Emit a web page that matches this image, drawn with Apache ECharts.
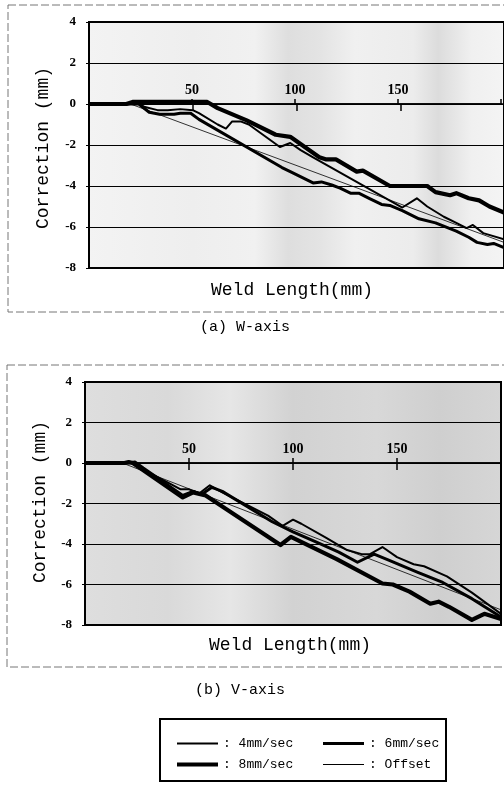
<!DOCTYPE html>
<html>
<head>
<meta charset="utf-8">
<script src="https://cdn.jsdelivr.net/npm/echarts@6/dist/echarts.min.js"></script>
<style>
html,body{margin:0;padding:0;background:#fff;}
#c{width:504px;height:796px;}
</style>
</head>
<body>
<div id="c"></div>
<script>
// ---- data (x = weld length mm, y = correction mm) ----
const xTickValues = [0, 50, 100, 150, 200];
const yTickValues = [4, 2, 0, -2, -4, -6, -8];
const seriesNames = ['4mm/sec', '6mm/sec', '8mm/sec', 'Offset'];

// (a) W-axis
const w4 = [[0,0],[19,0],[23,0.05],[27,-0.15],[33,-0.3],[38,-0.3],[44,-0.25],[50,-0.3],[53,-0.45],[62,-1.0],[66,-1.2],[69,-0.85],[73,-0.85],[77,-1.0],[92,-2.1],[97,-1.9],[102,-2.25],[108,-2.6],[151,-5.05],[158,-4.6],[163,-5.0],[171,-5.5],[177,-5.8],[182,-6.05],[185,-5.9],[190,-6.3],[200,-6.6]];
const w6 = [[0,0],[20,0],[24,0],[29,-0.4],[34,-0.5],[41,-0.5],[44,-0.45],[49,-0.45],[53,-0.75],[93,-3.1],[97,-3.3],[108,-3.85],[112,-3.8],[117,-3.95],[121,-4.1],[126,-4.35],[130,-4.35],[135,-4.6],[141,-4.9],[145,-4.95],[151,-5.2],[159,-5.6],[167,-5.8],[177,-6.2],[183,-6.5],[187,-6.75],[192,-6.85],[195,-6.8],[200,-7.0]];
const w8 = [[0,0],[18,0],[21,0.1],[57,0.1],[62,-0.2],[76,-0.8],[90,-1.5],[97,-1.6],[111,-2.6],[114,-2.7],[119,-2.7],[129,-3.3],[132,-3.25],[145,-4.0],[163,-4.0],[167,-4.3],[174,-4.45],[177,-4.35],[183,-4.6],[188,-4.7],[193,-5.0],[200,-5.3]];
const wOffset = [[0,0],[20,0],[200,-6.75]];

// (b) V-axis
const v4 = [[0,0],[19,0],[21,0.05],[25,-0.15],[46,-1.3],[50,-1.3],[55,-1.5],[60,-1.1],[66,-1.45],[88,-2.6],[95,-3.1],[100,-2.8],[104,-3.0],[116,-3.7],[126,-4.3],[133,-4.5],[137,-4.5],[143,-4.15],[150,-4.65],[158,-5.0],[163,-5.1],[174,-5.6],[186,-6.4],[200,-7.45]];
const v6 = [[0,0],[21,0],[24,0.05],[28,-0.25],[47,-1.6],[52,-1.4],[56,-1.55],[61,-1.2],[66,-1.4],[90,-2.9],[100,-3.4],[111,-3.9],[122,-4.4],[131,-4.9],[139,-4.5],[146,-4.8],[160,-5.4],[172,-5.9],[186,-6.7],[200,-7.6]];
const v8 = [[0,0],[19,0],[21,0.05],[23,0],[47,-1.7],[52,-1.45],[58,-1.6],[94,-4.05],[99,-3.65],[121,-4.75],[143,-5.95],[148,-6.0],[156,-6.35],[166,-6.95],[170,-6.85],[175,-7.1],[186,-7.75],[192,-7.45],[200,-7.7]];
const vOffset = [[0,0],[18,0],[200,-7.25]];

// ---- styling ----
const widths = {'4mm/sec': 2, '6mm/sec': 3, '8mm/sec': 4.2, 'Offset': 0.8};
const monoFont = '"Liberation Mono", "DejaVu Sans Mono", monospace';
const serifFont = '"Liberation Serif", "DejaVu Serif", serif';

const chart = echarts.init(document.getElementById('c'), null, {renderer: 'canvas'});

// main plot rectangles
const P1 = {left: 89, top: 22, width: 418, height: 246};
const P2 = {left: 85, top: 382, width: 416, height: 243};
const yMin = -8, yMax = 4;
function zeroY(p) { return p.top + p.height * (yMax - 0) / (yMax - yMin); }

function mainGrid(p, stops) {
  return Object.assign({}, p, {
    show: true, containLabel: false, borderColor: '#000', borderWidth: 2,
    backgroundColor: {type: 'linear', x: 0, y: 0, x2: 1, y2: 0, colorStops: stops}
  });
}
// helper grids whose edges lie on the zero line (for the x axis drawn at y = 0)
function lowerAuxGrid(p) { const z = zeroY(p); return {left: p.left, width: p.width, top: z, height: p.top + p.height - z, show: false}; }
function upperAuxGrid(p) { const z = zeroY(p); return {left: p.left, width: p.width, top: p.top, height: z - p.top, show: false}; }

const xScale = {type: 'value', min: xTickValues[0], max: xTickValues[xTickValues.length - 1], interval: 50};

function hiddenX(gridIndex) {
  return Object.assign({}, xScale, {gridIndex, show: false, position: 'bottom', axisLine: {onZero: false}, splitLine: {show: false}});
}
function labelledZeroX(gridIndex) {
  return Object.assign({}, xScale, {
    gridIndex, position: 'top',
    axisLine: {show: true, onZero: false, lineStyle: {color: '#000', width: 1.5}},
    axisTick: {show: true, inside: false, length: 5, lineStyle: {color: '#000', width: 1.5}},
    axisLabel: {
      show: true, margin: 7, color: '#000', fontFamily: serifFont, fontWeight: 'bold', fontSize: 14,
      formatter: v => (v === 0 || v === 200) ? '' : String(v)
    },
    splitLine: {show: false}
  });
}
function tickDownX(gridIndex) {
  return Object.assign({}, xScale, {
    gridIndex, position: 'bottom',
    axisLine: {show: true, onZero: false, lineStyle: {color: '#000', width: 1.5}},
    axisTick: {show: true, inside: false, length: 7, lineStyle: {color: '#000', width: 1.5}},
    axisLabel: {show: false},
    splitLine: {show: false}
  });
}
function mainY(gridIndex, margin) {
  return {
    type: 'value', gridIndex, position: 'left', min: yMin, max: yMax, interval: 2,
    axisLine: {show: false, onZero: false},
    axisTick: {show: true, length: 3, lineStyle: {color: '#000'}},
    axisLabel: {margin: margin, color: '#000', fontFamily: serifFont, fontWeight: 'bold', fontSize: 13},
    splitLine: {show: true, lineStyle: {color: '#000', width: 1}}
  };
}
function hiddenY(gridIndex) {
  return {type: 'value', gridIndex, min: 0, max: 1, show: false, axisLine: {onZero: false}, splitLine: {show: false}};
}

function lineSeries(name, data, xIdx, yIdx) {
  return {
    name, type: 'line', data, xAxisIndex: xIdx, yAxisIndex: yIdx,
    symbol: 'none', showSymbol: false, silent: true,
    lineStyle: {color: '#000', width: widths[name], join: 'round'},
    itemStyle: {color: '#000'},
    z: name === 'Offset' ? 5 : 3
  };
}

const legendCommon = {
  icon: 'rect', itemWidth: 41, orient: 'horizontal', selectedMode: false,
  formatter: ': {name}',
  textStyle: {fontFamily: monoFont, fontSize: 13, color: '#000'}
};
function legendItem(name, left, centerY) {
  return Object.assign({}, legendCommon, {
    data: [name], left, top: centerY - 7, itemHeight: Math.max(1, widths[name])
  });
}

function textEl(text, x, y, size, rot) {
  return {
    type: 'text', x, y, rotation: rot || 0, silent: true,
    style: {text, fill: '#000', font: size + 'px ' + monoFont, align: 'center', verticalAlign: 'middle'}
  };
}

const option = {
  animation: false,
  backgroundColor: '#fff',
  grid: [
    mainGrid(P1, [
      {offset: 0, color: '#f3f3f3'}, {offset: 0.25, color: '#eeeeee'},
      {offset: 0.4, color: '#f1f1f1'}, {offset: 0.48, color: '#dedede'},
      {offset: 0.56, color: '#e4e4e4'}, {offset: 0.64, color: '#f0f0f0'},
      {offset: 0.78, color: '#ececec'}, {offset: 0.84, color: '#dcdcdc'},
      {offset: 0.92, color: '#f0f0f0'}, {offset: 1, color: '#f4f4f4'}
    ]),
    mainGrid(P2, [
      {offset: 0, color: '#dedede'}, {offset: 0.2, color: '#d9d9d9'},
      {offset: 0.35, color: '#e6e6e6'}, {offset: 0.5, color: '#d2d2d2'},
      {offset: 0.7, color: '#d8d8d8'}, {offset: 0.85, color: '#cfcfcf'},
      {offset: 1, color: '#d6d6d6'}
    ]),
    lowerAuxGrid(P1), upperAuxGrid(P1),
    lowerAuxGrid(P2), upperAuxGrid(P2)
  ],
  xAxis: [
    hiddenX(0), hiddenX(1),
    labelledZeroX(2), tickDownX(3),
    labelledZeroX(4), tickDownX(5)
  ],
  yAxis: [
    mainY(0, 13), mainY(1, 13),
    hiddenY(2), hiddenY(3), hiddenY(4), hiddenY(5)
  ],
  legend: [
    legendItem('4mm/sec', 172, 739),
    legendItem('6mm/sec', 318, 739),
    legendItem('8mm/sec', 172, 760),
    legendItem('Offset', 318, 760)
  ],
  series: [
    lineSeries('Offset', wOffset, 0, 0),
    lineSeries('4mm/sec', w4, 0, 0),
    lineSeries('6mm/sec', w6, 0, 0),
    lineSeries('8mm/sec', w8, 0, 0),
    lineSeries('Offset', vOffset, 1, 1),
    lineSeries('4mm/sec', v4, 1, 1),
    lineSeries('6mm/sec', v6, 1, 1),
    lineSeries('8mm/sec', v8, 1, 1)
  ],
  graphic: [
    // figure frames (scanned outlines)
    {type: 'rect', silent: true, z: -1, shape: {x: 8, y: 5, width: 520, height: 307},
     style: {fill: 'none', stroke: '#777', lineWidth: 1, lineDash: [8, 3]}},
    {type: 'rect', silent: true, z: -1, shape: {x: 7, y: 365, width: 520, height: 302},
     style: {fill: 'none', stroke: '#777', lineWidth: 1, lineDash: [8, 3]}},
    // axis titles
    textEl('Correction (mm)', 43, 148, 18, Math.PI / 2),
    textEl('Weld Length(mm)', 292, 290, 18),
    textEl('Correction (mm)', 40, 502, 18, Math.PI / 2),
    textEl('Weld Length(mm)', 290, 645, 18),
    // captions
    textEl('(a) W-axis', 245, 327, 15),
    textEl('(b) V-axis', 240, 690, 15),
    // legend box
    {type: 'rect', silent: true, z: 10, shape: {x: 160, y: 719, width: 286, height: 62},
     style: {fill: 'none', stroke: '#000', lineWidth: 2}}
  ]
};
chart.setOption(option);
</script>
</body>
</html>
